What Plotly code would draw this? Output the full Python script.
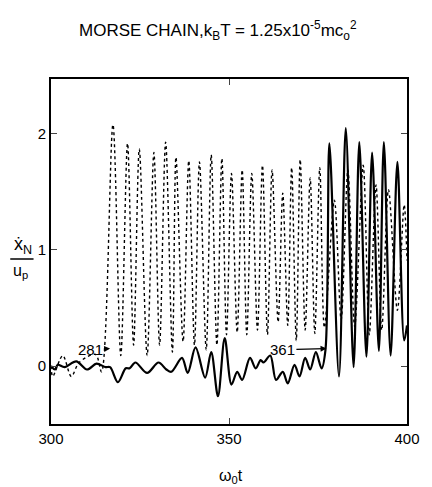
import plotly.graph_objects as go

# ---- data (omega_0 t, xdot_N / u_p) ----
# N = 361 (solid curve): local extrema
n361_t = [300.0, 301.1, 301.9, 303.8, 307.1, 310.1, 312.8, 315.3, 316.6, 318.8,
          321.0, 322.1, 323.7, 327.0, 330.2, 332.4, 333.8, 336.8, 338.4, 340.6,
          343.3, 345.0, 346.9, 348.8, 350.7, 352.3, 353.7, 355.9, 357.5, 358.9,
          359.7, 361.6, 363.2, 365.1, 366.5, 368.4, 369.8, 371.4, 372.8, 374.4,
          376.0, 377.1, 378.2, 380.9, 382.8, 385.0, 386.6, 388.6, 390.2, 392.1,
          393.5, 395.4, 397.3, 399.2, 400.0]
n361_v = [0.00, -0.03, 0.01, -0.01, 0.04, -0.03, 0.02, -0.01, -0.01, -0.14,
          -0.02, -0.02, 0.03, -0.06, 0.03, -0.03, -0.05, 0.07, -0.06, 0.16,
          -0.10, 0.12, -0.26, 0.24, -0.16, -0.05, -0.12, 0.07, -0.02, 0.05,
          0.03, 0.09, -0.12, -0.05, -0.15, 0.01, -0.09, 0.07, -0.03, 0.12,
          -0.02, 0.14, 1.92, -0.09, 2.05, -0.01, 1.93, 0.08, 1.84, 0.13,
          1.93, 0.09, 1.76, 0.22, 0.35]

# N = 281 (dotted curve): local extrema
n281_t = [300.0, 300.5, 303.3, 305.7, 307.9, 312.5, 314.2,
          317.4, 319.6, 321.5, 323.2, 324.8, 327.0, 328.9, 330.5, 332.2, 334.1,
          335.1, 337.1, 338.7, 340.3, 341.7, 343.6, 345.0, 346.6, 348.0, 349.3,
          350.7, 352.3, 353.7, 355.0, 356.4, 358.0, 359.4, 360.8, 362.1, 363.8,
          365.1, 366.5, 367.6, 368.9, 370.0, 371.4, 372.8, 374.1, 375.5, 376.8,
          379.6, 381.5, 383.4, 385.3, 387.7, 389.4, 391.3, 392.9, 394.8, 397.3,
          399.2, 400.0]
n281_v = [0.00, -0.09, 0.09, -0.09, 0.03, 0.10, -0.05,
          2.08, 0.09, 1.92, 0.18, 1.87, 0.09, 1.84, 0.18, 1.93, 0.12,
          1.80, 0.21, 1.77, 0.18, 1.76, 0.14, 1.82, 0.18, 1.79, 0.27,
          1.66, 0.29, 1.69, 0.27, 1.66, 0.31, 1.73, 0.27, 1.69, 0.38,
          1.49, 0.35, 1.71, 0.22, 1.78, 0.31, 1.62, 0.28, 1.71, 0.33,
          1.43, 0.40, 1.69, 0.34, 1.73, 0.27, 1.56, 0.31, 1.52, 0.48,
          1.39, 0.91]

x_ticks = [300, 350, 400]
y_ticks = [0, 1, 2]
y_tick_text = ["0", "1", "2"]

FONT = "Liberation Sans"

fig = go.Figure()
fig.add_trace(go.Scatter(x=n281_t, y=n281_v, mode="lines",
                         line=dict(color="black", width=1.4, dash="dot", shape="spline", smoothing=0.9),
                         showlegend=False))
fig.add_trace(go.Scatter(x=n361_t, y=n361_v, mode="lines",
                         line=dict(color="black", width=2.2, shape="spline", smoothing=0.9),
                         showlegend=False))

fig.update_layout(
    width=432, height=487,
    margin=dict(l=51, r=14, t=79, b=63),
    paper_bgcolor="white", plot_bgcolor="white",
    font=dict(family=FONT, color="black", size=15),
    xaxis=dict(range=[300, 400], tickvals=x_ticks, ticks="inside", ticklen=6, tickwidth=1.3,
               showline=True, linecolor="black", linewidth=1.6, mirror="allticks",
               showgrid=False, zeroline=False, tickfont=dict(size=15)),
    yaxis=dict(range=[-0.5, 2.474], tickvals=y_ticks, ticktext=y_tick_text, ticks="inside",
               ticklen=6, tickwidth=1.3, showline=True, linecolor="black", linewidth=1.6,
               mirror="allticks", showgrid=False, zeroline=False, tickfont=dict(size=15)),
)

ann = []
# title
ann.append(dict(xref="paper", yref="paper", x=(223 - 51) / 367, y=(424 - 30) / 345,
                text="MORSE CHAIN,k<sub>B</sub>T = 1.25x10<sup>-5</sup>mc<sub>o</sub><sup>2</sup>",
                showarrow=False, font=dict(size=17), xanchor="center", yanchor="middle"))
# y-axis label (fraction)
ann.append(dict(xref="paper", yref="paper", x=(22 - 51) / 367, y=(424 - 245) / 345,
                text="ẋ<sub>N</sub>", showarrow=False, font=dict(size=18),
                xanchor="center", yanchor="middle"))
ann.append(dict(xref="paper", yref="paper", x=(20 - 51) / 367, y=(424 - 271) / 345,
                text="u<sub>p</sub>", showarrow=False, font=dict(size=16),
                xanchor="center", yanchor="middle"))
# x-axis label
ann.append(dict(xref="paper", yref="paper", x=(237 - 51) / 367, y=(424 - 476) / 345,
                text="ω<sub>0</sub>t", showarrow=False, font=dict(size=16),
                xanchor="center", yanchor="middle"))
# N= label
ann.append(dict(xref="x", yref="y", x=299.6, y=0.12, text="N=", showarrow=False,
                font=dict(size=15), xanchor="right", yanchor="middle"))
# 281 arrow
ann.append(dict(xref="x", yref="y", x=316.6, y=0.15, axref="x", ayref="y", ax=311.0, ay=0.14,
                text="281", showarrow=True, arrowhead=2, arrowsize=1, arrowwidth=1.2,
                arrowcolor="black", font=dict(size=15)))
# 361 arrow
ann.append(dict(xref="x", yref="y", x=377.4, y=0.15, axref="x", ayref="y", ax=365.0, ay=0.14,
                text="361", showarrow=True, arrowhead=2, arrowsize=1, arrowwidth=1.2,
                arrowcolor="black", font=dict(size=15)))
fig.update_layout(annotations=ann)

fig.add_shape(type="line", xref="paper", yref="paper",
              x0=(9 - 51) / 367, x1=(33 - 51) / 367,
              y0=(424 - 259) / 345, y1=(424 - 259) / 345,
              line=dict(color="black", width=1.5))

fig.write_html("out.html")
